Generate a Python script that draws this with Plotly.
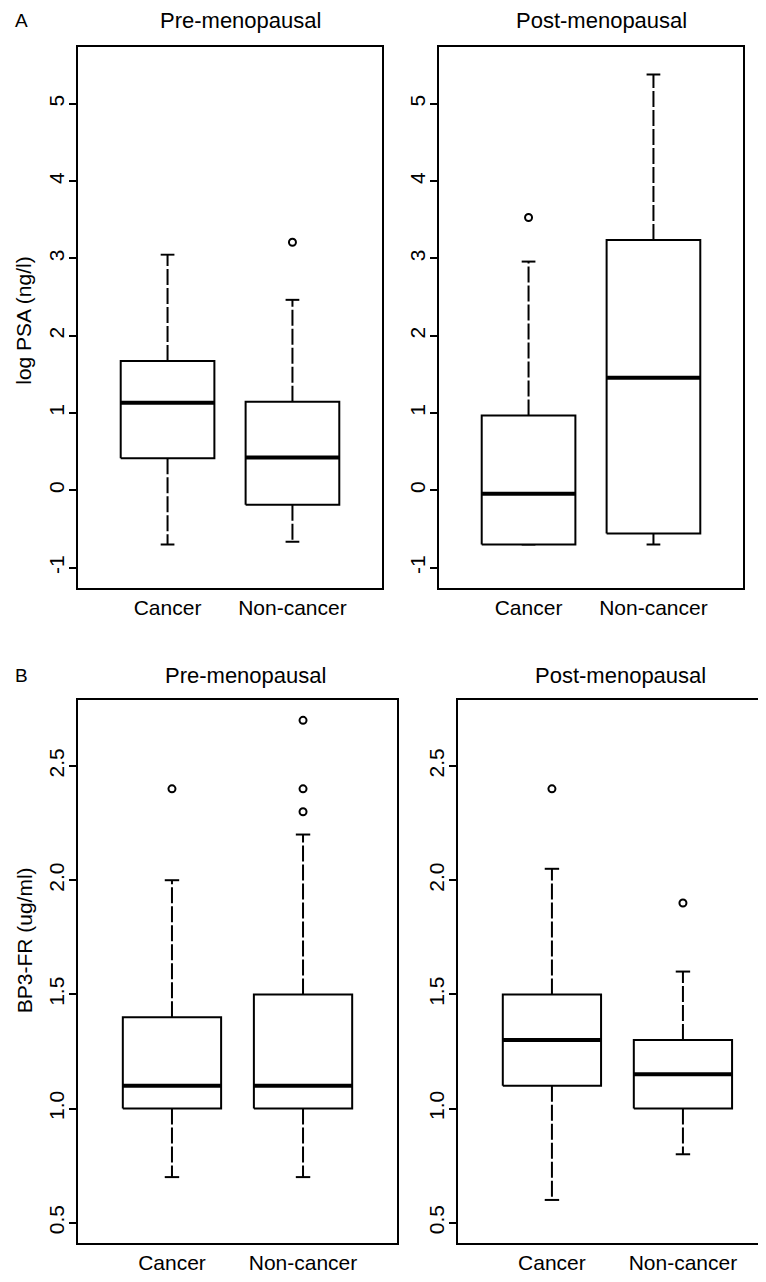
import plotly.graph_objects as go

# ---------------- data ----------------
categories = ["Cancer", "Non-cancer"]

# Panel A: log PSA (ng/l)
psa_pre_lower = [-0.70, -0.666]
psa_pre_q1 = [0.416, -0.186]
psa_pre_median = [1.134, 0.425]
psa_pre_q3 = [1.675, 1.147]
psa_pre_upper = [3.05, 2.465]
psa_pre_outliers = [[], [3.21]]

psa_post_lower = [-0.70, -0.70]
psa_post_q1 = [-0.70, -0.559]
psa_post_median = [-0.044, 1.456]
psa_post_q3 = [0.97, 3.24]
psa_post_upper = [2.96, 5.38]
psa_post_outliers = [[3.53], []]

# Panel B: BP3-FR (ug/ml)
bp_pre_lower = [0.70, 0.70]
bp_pre_q1 = [1.00, 1.00]
bp_pre_median = [1.10, 1.10]
bp_pre_q3 = [1.40, 1.50]
bp_pre_upper = [2.00, 2.20]
bp_pre_outliers = [[2.40], [2.70, 2.40, 2.30]]

bp_post_lower = [0.60, 0.80]
bp_post_q1 = [1.10, 1.00]
bp_post_median = [1.30, 1.15]
bp_post_q3 = [1.50, 1.30]
bp_post_upper = [2.05, 1.60]
bp_post_outliers = [[2.40], [1.90]]

psa_ticks = [-1, 0, 1, 2, 3, 4, 5]
psa_ticktext = ["-1", "0", "1", "2", "3", "4", "5"]
bp_ticks = [0.5, 1.0, 1.5, 2.0, 2.5]
bp_ticktext = ["0.5", "1.0", "1.5", "2.0", "2.5"]

# ---------------- styling / layout constants ----------------
PAGE_MARGIN = 8           # default HTML body margin
W, H = 766 - PAGE_MARGIN, 1282 - 2 * PAGE_MARGIN
FONT = "Liberation Sans, Arial, Helvetica, sans-serif"
BOX_HALF = 0.375
CAP_HALF = 0.055
DASH = "16px,3px"


def px_x(p):
    return (p - PAGE_MARGIN) / W


def px_y(p):
    return 1 - (p - PAGE_MARGIN) / H


panels = [
    dict(lower=psa_pre_lower, q1=psa_pre_q1, med=psa_pre_median, q3=psa_pre_q3,
         upper=psa_pre_upper, out=psa_pre_outliers,
         dom_x=[px_x(78), px_x(382)], dom_y=[px_y(590), px_y(47)],
         xr=[0.283, 2.717], yr=[-1.259, 5.738], tv=psa_ticks, tt=psa_ticktext,
         mirror=True),
    dict(lower=psa_post_lower, q1=psa_post_q1, med=psa_post_median, q3=psa_post_q3,
         upper=psa_post_upper, out=psa_post_outliers,
         dom_x=[px_x(439), px_x(743)], dom_y=[px_y(590), px_y(47)],
         xr=[0.283, 2.717], yr=[-1.259, 5.738], tv=psa_ticks, tt=psa_ticktext,
         mirror=True),
    dict(lower=bp_pre_lower, q1=bp_pre_q1, med=bp_pre_median, q3=bp_pre_q3,
         upper=bp_pre_upper, out=bp_pre_outliers,
         dom_x=[px_x(78), px_x(397)], dom_y=[px_y(1248), px_y(703)],
         xr=[0.283, 2.717], yr=[0.411, 2.788], tv=bp_ticks, tt=bp_ticktext,
         mirror=True),
    dict(lower=bp_post_lower, q1=bp_post_q1, med=bp_post_median, q3=bp_post_q3,
         upper=bp_post_upper, out=bp_post_outliers,
         dom_x=[px_x(458), 1.0], dom_y=[px_y(1248), px_y(703)],
         xr=[0.283, 2.634], yr=[0.411, 2.788], tv=bp_ticks, tt=bp_ticktext,
         mirror=False),
]

fig = go.Figure()

for k, p in enumerate(panels):
    xa = "x" if k == 0 else f"x{k+1}"
    ya = "y" if k == 0 else f"y{k+1}"
    bx, by, mx, my, wx, wy, cx, cy, ox, oy = [], [], [], [], [], [], [], [], [], []
    for i, _ in enumerate(categories):
        c = i + 1
        bx += [c - BOX_HALF, c + BOX_HALF, c + BOX_HALF, c - BOX_HALF, c - BOX_HALF, None]
        by += [p["q1"][i], p["q1"][i], p["q3"][i], p["q3"][i], p["q1"][i], None]
        mx += [c - BOX_HALF, c + BOX_HALF, None]
        my += [p["med"][i], p["med"][i], None]
        wx += [c, c, None, c, c, None]
        wy += [p["q3"][i], p["upper"][i], None, p["q1"][i], p["lower"][i], None]
        cx += [c - CAP_HALF, c + CAP_HALF, None, c - CAP_HALF, c + CAP_HALF, None]
        cy += [p["upper"][i], p["upper"][i], None, p["lower"][i], p["lower"][i], None]
        for v in p["out"][i]:
            ox.append(c)
            oy.append(v)
    common = dict(xaxis=xa, yaxis=ya, showlegend=False, hoverinfo="skip", mode="lines")
    fig.add_trace(go.Scatter(x=wx, y=wy, line=dict(color="black", width=2, dash=DASH), **common))
    fig.add_trace(go.Scatter(x=cx, y=cy, line=dict(color="black", width=2), **common))
    fig.add_trace(go.Scatter(x=bx, y=by, fill="toself", fillcolor="white",
                             line=dict(color="black", width=2), **common))
    fig.add_trace(go.Scatter(x=mx, y=my, line=dict(color="black", width=4), **common))
    fig.add_trace(go.Scatter(x=ox, y=oy, mode="markers", xaxis=xa, yaxis=ya,
                             showlegend=False, hoverinfo="skip",
                             marker=dict(symbol="circle-open", size=7, color="black",
                                         line=dict(width=2, color="black"))))

    xkey = "xaxis" if k == 0 else f"xaxis{k+1}"
    ykey = "yaxis" if k == 0 else f"yaxis{k+1}"
    fig.layout[xkey] = dict(
        domain=p["dom_x"], range=p["xr"], anchor=ya, showgrid=False, zeroline=False,
        showline=True, linecolor="black", linewidth=2, mirror=True,
        tickvals=[1, 2], ticktext=categories, ticks="",
        tickfont=dict(size=21, color="black", family=FONT), fixedrange=True,
    )
    fig.layout[ykey] = dict(
        domain=p["dom_y"], range=p["yr"], anchor=xa, showgrid=False, zeroline=False,
        showline=True, linecolor="black", linewidth=2, mirror=p["mirror"],
        tickvals=p["tv"], ticktext=p["tt"], ticks="outside", ticklen=7, tickwidth=2,
        tickcolor="black", tickangle=-90, ticklabelstandoff=-3,
        tickfont=dict(size=21, color="black", family=FONT), fixedrange=True,
    )

annots = [
    dict(text="A", x=21, y=21, size=19),
    dict(text="B", x=21, y=678, size=19),
    dict(text="Pre-menopausal", x=240, y=21, size=22),
    dict(text="Post-menopausal", x=601, y=21, size=22),
    dict(text="Pre-menopausal", x=245, y=678, size=22),
    dict(text="Post-menopausal", x=620, y=678, size=22),
]
for a in annots:
    fig.add_annotation(text=a["text"], x=px_x(a["x"]), y=px_y(a["y"]), xref="paper", yref="paper",
                       xanchor="center", yanchor="middle", showarrow=False,
                       font=dict(size=a["size"], color="black", family=FONT))

for txt, yy in [("log PSA (ng/l)", 322), ("BP3-FR (ug/ml)", 944)]:
    fig.add_annotation(text=txt, x=px_x(24), y=px_y(yy), xref="paper", yref="paper",
                       xanchor="center", yanchor="middle", showarrow=False, textangle=-90,
                       font=dict(size=21, color="black", family=FONT))

fig.update_layout(
    width=W, height=H, margin=dict(l=0, r=0, t=0, b=0),
    paper_bgcolor="white", plot_bgcolor="white",
    font=dict(family=FONT, color="black"),
)

fig.write_html("out.html")
